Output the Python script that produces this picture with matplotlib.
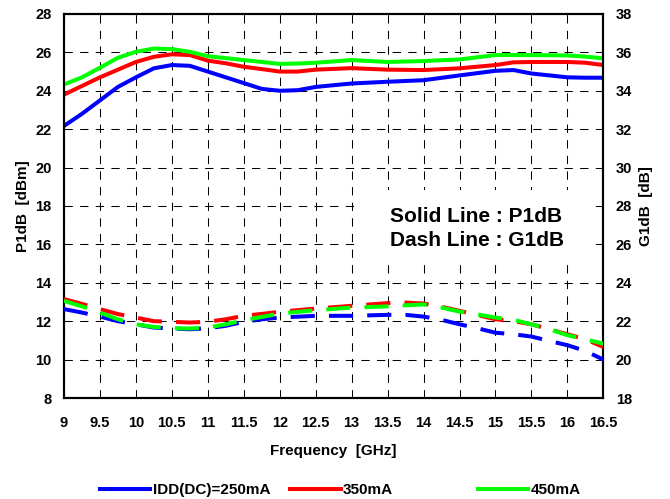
import numpy as np
import matplotlib.pyplot as plt
from matplotlib.lines import Line2D
from matplotlib.patches import Rectangle

plt.rcParams['font.family'] = ['Liberation Sans', 'DejaVu Sans']
plt.rcParams['font.weight'] = 'bold'
plt.rcParams['axes.labelweight'] = 'bold'

# P1dB [dBm] vs frequency, solid lines (left axis)
f_p1 = [9, 9.25, 9.5, 9.75, 10, 10.25, 10.5, 10.75, 11, 11.25, 11.5, 11.75, 12, 12.25, 12.5,
        13, 13.5, 14, 14.5, 15, 15.25, 15.5, 16, 16.25, 16.5]
p1_250 = [22.17, 22.8, 23.5, 24.2, 24.7, 25.17, 25.34, 25.3, 25.0, 24.7, 24.4, 24.1, 24.0, 24.03, 24.2,
          24.38, 24.47, 24.55, 24.8, 25.04, 25.08, 24.9, 24.7, 24.68, 24.68]
p1_350 = [23.8, 24.25, 24.7, 25.1, 25.5, 25.77, 25.9, 25.86, 25.57, 25.43, 25.25, 25.13, 25.0, 25.0, 25.1,
          25.18, 25.1, 25.08, 25.17, 25.34, 25.48, 25.5, 25.5, 25.46, 25.34]
p1_450 = [24.33, 24.7, 25.2, 25.72, 26.03, 26.2, 26.17, 26.03, 25.8, 25.7, 25.6, 25.5, 25.4, 25.42, 25.46,
          25.6, 25.5, 25.55, 25.63, 25.86, 25.86, 25.86, 25.84, 25.78, 25.69]

# G1dB [dB] vs frequency, dashed lines (right axis)
f_g1 = [9, 9.25, 9.5, 9.75, 10, 10.25, 10.5, 10.75, 11, 11.25, 11.5, 11.75, 12, 12.5,
        13, 13.5, 13.75, 14, 14.25, 14.5, 14.75, 15, 15.25, 15.5, 15.75, 16, 16.25, 16.5]
g1_250 = [22.63, 22.45, 22.24, 22.0, 21.84, 21.67, 21.62, 21.58, 21.63, 21.76, 21.97, 22.1, 22.19, 22.28,
          22.28, 22.33, 22.33, 22.24, 22.07, 21.84, 21.63, 21.4, 21.32, 21.2, 20.97, 20.75, 20.45, 20.0]
g1_350 = [23.15, 22.9, 22.63, 22.37, 22.19, 22.0, 21.97, 21.93, 21.97, 22.1, 22.28, 22.38, 22.49, 22.66,
          22.8, 22.94, 22.97, 22.92, 22.75, 22.54, 22.32, 22.1, 22.0, 21.84, 21.58, 21.32, 21.06, 20.66]
g1_450 = [23.06, 22.77, 22.45, 22.1, 21.84, 21.7, 21.63, 21.62, 21.67, 21.84, 22.05, 22.22, 22.4, 22.57,
          22.71, 22.77, 22.83, 22.87, 22.71, 22.5, 22.35, 22.19, 22.07, 21.84, 21.58, 21.27, 21.06, 20.83]

labels = ['IDD(DC)=250mA', '350mA', '450mA']
colors = ['#0000ff', '#ff0000', '#00ff00']

fig = plt.figure(figsize=(6.7, 4.99), dpi=100)
ax = fig.add_axes([0.0955, 0.2024, 0.805, 0.7696])
ax2 = ax.twinx()

lw = 2.9
for y, c in zip([p1_250, p1_350, p1_450], colors):
    ax.plot(f_p1, y, color=c, lw=lw, solid_capstyle='butt', zorder=3)
for y, c in zip([g1_250, g1_350, g1_450], colors):
    ax2.plot(f_g1, y, color=c, lw=lw, dashes=(6, 3.5), zorder=3)

ax.set_xlim(9, 16.5)
ax.set_ylim(8, 28)
ax2.set_ylim(18, 38)
ax.set_xticks(np.arange(9, 16.51, 0.5))
ax.set_xticklabels(['9', '9.5', '10', '10.5', '11', '11.5', '12', '12.5', '13',
                    '13.5', '14', '14.5', '15', '15.5', '16', '16.5'])
ax.set_yticks(np.arange(8, 28.1, 2))
ax2.set_yticks(np.arange(18, 38.1, 2))

ax.grid(True, color='black', lw=0.75, linestyle=(0, (8, 7)))
ax.set_axisbelow(True)
for a in (ax, ax2):
    a.tick_params(length=0, labelsize=10.5, pad=9)
    for s in a.spines.values():
        s.set_linewidth(1.5)
ax.tick_params(axis='x', pad=13)

ax.set_xlabel('Frequency  [GHz]', fontsize=11, labelpad=10)
ax.set_ylabel('P1dB  [dBm]', fontsize=11, labelpad=4)
ax2.set_ylabel('G1dB  [dB]', fontsize=11, labelpad=5)

# white box behind the line-style note
ax.add_patch(Rectangle((13.09, 14.93), 3.23, 3.9, facecolor='white', edgecolor='none', zorder=2))
ax.text(13.53, 17.18, 'Solid Line : P1dB', fontsize=15, zorder=4)
ax.text(13.53, 15.92, 'Dash Line : G1dB', fontsize=15, zorder=4)

# legend entries placed one by one below the axes
leg_x = [0.149, 0.433, 0.713]
for x, lab, c in zip(leg_x, labels, colors):
    h = Line2D([], [], color=c, lw=2.9)
    fig.legend([h], [lab], loc='center left', bbox_to_anchor=(x, 0.018),
               frameon=False, fontsize=11, handlelength=3.3, handletextpad=0.15,
               borderaxespad=0, borderpad=0)

fig.savefig('out.png', dpi=100)
